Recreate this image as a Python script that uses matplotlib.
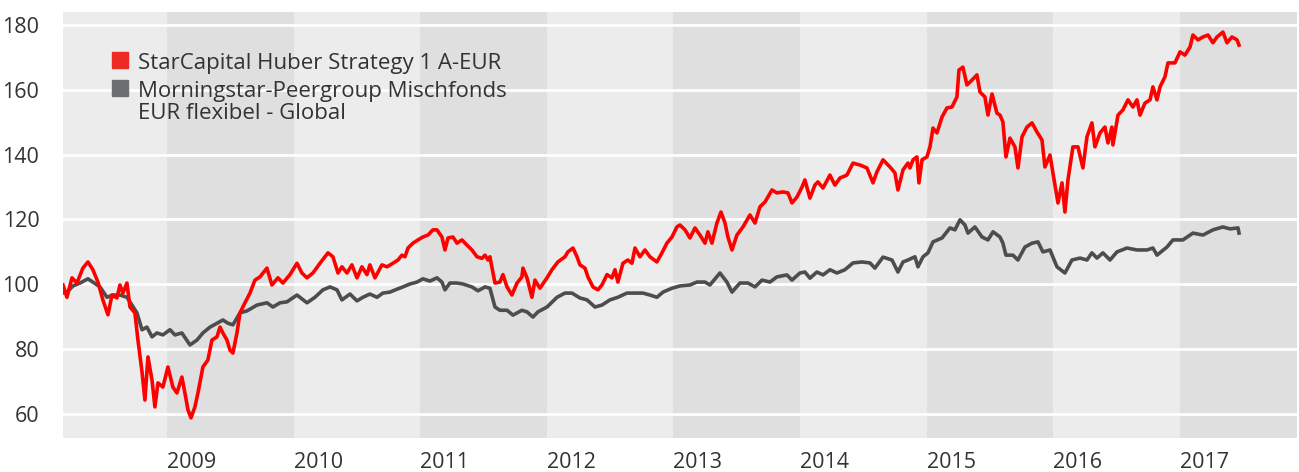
import matplotlib.pyplot as plt

plt.rcParams['font.family'] = ['Open Sans', 'DejaVu Sans']

# Fondsverlauf (indexiert, Start = 100), x als Dezimaljahr
fund_t = [2008.179, 2008.210, 2008.250, 2008.289, 2008.336, 2008.376, 2008.415, 2008.455,
          2008.494, 2008.534, 2008.566, 2008.605, 2008.629, 2008.652, 2008.684, 2008.708,
          2008.747, 2008.771, 2008.803, 2008.826, 2008.850, 2008.882, 2008.905, 2008.929,
          2008.968, 2009.008, 2009.047, 2009.079, 2009.118, 2009.142, 2009.166, 2009.190,
          2009.221, 2009.245, 2009.284, 2009.324, 2009.355, 2009.395, 2009.419, 2009.442,
          2009.474, 2009.498, 2009.521, 2009.553, 2009.577, 2009.616, 2009.656, 2009.695,
          2009.735, 2009.790, 2009.829, 2009.877, 2009.916, 2009.972, 2010.027, 2010.066,
          2010.106, 2010.153, 2010.209, 2010.272, 2010.311, 2010.351, 2010.382, 2010.422,
          2010.461, 2010.501, 2010.540, 2010.580, 2010.603, 2010.643, 2010.698, 2010.738,
          2010.785, 2010.825, 2010.856, 2010.880, 2010.904, 2010.943, 2010.983, 2011.022,
          2011.062, 2011.101, 2011.133, 2011.172, 2011.196, 2011.220, 2011.259, 2011.291,
          2011.330, 2011.370, 2011.409, 2011.449, 2011.488, 2011.512, 2011.536, 2011.551,
          2011.591, 2011.630, 2011.654, 2011.686, 2011.725, 2011.765, 2011.804, 2011.812,
          2011.844, 2011.883, 2011.907, 2011.946, 2012.002, 2012.041, 2012.088, 2012.144,
          2012.167, 2012.207, 2012.239, 2012.262, 2012.302, 2012.325, 2012.365, 2012.404,
          2012.436, 2012.476, 2012.515, 2012.539, 2012.562, 2012.602, 2012.641, 2012.673,
          2012.697, 2012.736, 2012.776, 2012.815, 2012.870, 2012.910, 2012.949, 2012.989,
          2013.028, 2013.052, 2013.092, 2013.131, 2013.171, 2013.210, 2013.250, 2013.273,
          2013.305, 2013.344, 2013.376, 2013.408, 2013.431, 2013.463, 2013.502, 2013.550,
          2013.605, 2013.645, 2013.684, 2013.724, 2013.779, 2013.818, 2013.866, 2013.905,
          2013.937, 2013.976, 2014.016, 2014.039, 2014.079, 2014.118, 2014.142, 2014.182,
          2014.237, 2014.276, 2014.316, 2014.371, 2014.419, 2014.474, 2014.529, 2014.577,
          2014.608, 2014.656, 2014.711, 2014.750, 2014.774, 2014.814, 2014.853, 2014.869,
          2014.893, 2014.924, 2014.940, 2014.964, 2015.003, 2015.027, 2015.051, 2015.082,
          2015.122, 2015.161, 2015.201, 2015.240, 2015.256, 2015.287, 2015.319, 2015.359,
          2015.398, 2015.422, 2015.461, 2015.485, 2015.517, 2015.556, 2015.580, 2015.603,
          2015.627, 2015.659, 2015.698, 2015.722, 2015.754, 2015.793, 2015.833, 2015.872,
          2015.912, 2015.935, 2015.975, 2015.998, 2016.038, 2016.070, 2016.093, 2016.117,
          2016.156, 2016.196, 2016.235, 2016.267, 2016.306, 2016.330, 2016.370, 2016.409,
          2016.433, 2016.464, 2016.472, 2016.512, 2016.551, 2016.591, 2016.630, 2016.662,
          2016.686, 2016.725, 2016.765, 2016.788, 2016.820, 2016.844, 2016.883, 2016.907,
          2016.962, 2017.002, 2017.041, 2017.081, 2017.104, 2017.144, 2017.183, 2017.223,
          2017.262, 2017.294, 2017.341, 2017.373, 2017.412, 2017.452, 2017.468]
fund_v = [99.8, 96, 102, 100.4, 105, 106.9, 104.5, 100.7,
          95.2, 90.6, 96.7, 95.8, 99.8, 97.3, 100.4, 93,
          91.2, 82.8, 73, 64.3, 77.6, 70.5, 62.2, 69.6,
          68.3, 74.5, 68.3, 66.5, 71.4, 66.5, 61.3, 58.8,
          62.2, 66.5, 74.5, 76.7, 82.8, 83.8, 86.8, 85,
          82.8, 79.7, 78.8, 85, 91.2, 94.3, 97.3, 101.3,
          102.3, 105, 99.8, 102, 100.4, 103, 106.5, 103.5,
          102, 103.5, 106.5, 109.7, 108.5, 103.5, 105.4, 103.5,
          106, 102, 105.4, 103, 106, 102, 106, 105.4,
          106.5, 107.5, 109, 108.5, 111.2, 112.7, 113.7, 114.6,
          115.2, 116.8, 116.8, 114.6, 110.6, 114.3, 114.6, 112.7,
          113.7, 112.1, 110.6, 108.5, 108, 109, 107.5, 108.5,
          100.4, 100.7, 103, 99.2, 96.7, 100.4, 102.3, 105,
          102, 96, 101.3, 98.8, 102, 104.5, 106.9, 108.5,
          110, 111.2, 108.5, 106, 105, 102.3, 99.2, 98.3,
          99.8, 103, 102, 104.5, 100.7, 106.5, 107.5, 106.5,
          111.2, 108.5, 110.6, 108.5, 106.9, 109.7, 112.7, 114.6,
          117.7, 118.3, 116.8, 114.3, 117.4, 115.2, 112.7, 116.2,
          112.7, 118.9, 122.3, 118.9, 114.6, 110.6, 115.2, 117.7,
          121.4, 118.9, 123.9, 125.4, 129.1, 128.2, 128.5, 128.2,
          125.1, 126.9, 130, 132.2, 126.6, 130.6, 131.6, 129.7,
          133.7, 130.6, 132.8, 133.7, 137.4, 136.8, 135.9, 131.3,
          134.7, 138.4, 136.2, 134.4, 129.1, 135.3, 137.4, 135.9,
          138.4, 139.3, 131.3, 138.4, 139.3, 142.4, 148.2, 146.7,
          151.6, 154.4, 154.7, 157.8, 166.1, 167, 161.5, 163,
          164.6, 159.3, 157.8, 152.2, 158.7, 152.8, 152.2, 150.1,
          139.3, 145.1, 142.4, 135.9, 145.5, 148.5, 149.8, 147,
          144.5, 136.2, 139.9, 134.4, 125.1, 131.3, 122.3, 132.2,
          142.4, 142.4, 135.9, 145.5, 149.8, 142.4, 146.7, 148.5,
          143.6, 148.5, 143, 152.2, 153.8, 156.9, 154.7, 156.9,
          152.2, 155.9, 156.9, 160.9, 156.9, 160.9, 164, 168.3,
          168.3, 171.7, 170.7, 173.2, 176.9, 175.4, 176.3, 176.9,
          174.5, 176.3, 177.8, 174.5, 176.3, 175.4, 173.8]

# Peergroup
peer_t = [2008.179, 2008.210, 2008.258, 2008.313, 2008.376, 2008.415, 2008.471, 2008.526,
          2008.573, 2008.629, 2008.684, 2008.724, 2008.763, 2008.803, 2008.842, 2008.882,
          2008.921, 2008.968, 2009.024, 2009.063, 2009.118, 2009.182, 2009.237, 2009.284,
          2009.340, 2009.395, 2009.442, 2009.482, 2009.521, 2009.577, 2009.632, 2009.711,
          2009.790, 2009.837, 2009.893, 2009.948, 2010.027, 2010.106, 2010.169, 2010.232,
          2010.288, 2010.343, 2010.382, 2010.446, 2010.501, 2010.548, 2010.603, 2010.659,
          2010.706, 2010.761, 2010.817, 2010.864, 2010.919, 2010.975, 2011.022, 2011.077,
          2011.133, 2011.172, 2011.196, 2011.235, 2011.291, 2011.338, 2011.409, 2011.457,
          2011.512, 2011.551, 2011.591, 2011.630, 2011.686, 2011.733, 2011.804, 2011.844,
          2011.891, 2011.930, 2012.002, 2012.081, 2012.144, 2012.199, 2012.262, 2012.318,
          2012.381, 2012.436, 2012.499, 2012.562, 2012.633, 2012.697, 2012.760, 2012.815,
          2012.870, 2012.918, 2012.989, 2013.052, 2013.131, 2013.186, 2013.250, 2013.289,
          2013.368, 2013.423, 2013.463, 2013.526, 2013.589, 2013.645, 2013.700, 2013.763,
          2013.818, 2013.897, 2013.937, 2014.000, 2014.039, 2014.079, 2014.134, 2014.182,
          2014.237, 2014.292, 2014.355, 2014.419, 2014.490, 2014.553, 2014.592, 2014.656,
          2014.727, 2014.774, 2014.814, 2014.853, 2014.908, 2014.932, 2014.972, 2015.011,
          2015.051, 2015.122, 2015.185, 2015.224, 2015.264, 2015.303, 2015.327, 2015.382,
          2015.438, 2015.485, 2015.525, 2015.580, 2015.603, 2015.627, 2015.682, 2015.722,
          2015.777, 2015.833, 2015.880, 2015.919, 2015.975, 2016.030, 2016.093, 2016.148,
          2016.212, 2016.267, 2016.306, 2016.346, 2016.393, 2016.449, 2016.504, 2016.583,
          2016.662, 2016.741, 2016.788, 2016.820, 2016.899, 2016.946, 2017.025, 2017.104,
          2017.183, 2017.262, 2017.341, 2017.396, 2017.460, 2017.468]
peer_v = [97.3, 97.6, 99.5, 100.4, 101.7, 100.7, 99.2, 96,
          96.7, 96.7, 96, 93.6, 91.2, 86, 86.8, 83.8,
          85, 84.4, 86, 84.4, 85, 81.3, 82.8, 85,
          86.8, 88, 89, 88, 87.5, 91.2, 91.8, 93.6,
          94.3, 93, 94.3, 94.6, 96.7, 94.3, 96, 98.3,
          99.2, 98.3, 95.2, 97, 94.9, 96, 97, 96,
          97.3, 97.6, 98.5, 99.2, 100.1, 100.7, 101.7, 101,
          102, 100.7, 98.3, 100.4, 100.4, 100.1, 99.2, 98,
          99.2, 98.8, 93, 92, 92, 90.5, 92, 91.5,
          89.9, 91.5, 93, 96, 97.3, 97.3, 95.8, 95.2,
          93, 93.6, 95.2, 96, 97.3, 97.3, 97.3, 96.7,
          96, 97.6, 98.8, 99.5, 99.8, 100.7, 100.7, 99.8,
          103.5, 100.7, 97.6, 100.4, 100.4, 99.2, 101.3, 100.7,
          102.3, 102.9, 101.3, 103.5, 103.8, 101.9, 103.8, 102.9,
          104.5, 103.5, 104.5, 106.6, 106.9, 106.6, 105, 108.4,
          107.5, 103.8, 106.9, 107.5, 108.5, 105.4, 108.5, 109.7,
          113.1, 114.3, 117.4, 116.8, 119.9, 118.3, 115.8, 117.7,
          114.6, 113.7, 116.2, 114.6, 112.7, 109, 109, 107.5,
          111.5, 112.7, 113.1, 110, 110.6, 105.4, 103.5, 107.5,
          108.1, 107.5, 109.7, 108.1, 109.7, 107.5, 110, 111.2,
          110.6, 110.6, 111.2, 109, 111.5, 113.7, 113.7, 115.8,
          115.2, 116.8, 117.7, 117.1, 117.4, 115.8]

years = list(range(2009, 2018))
y_ticks = [60, 80, 100, 120, 140, 160, 180]
labels = ['StarCapital Huber Strategy 1 A-EUR',
          'Morningstar-Peergroup Mischfonds\nEUR flexibel - Global']
legend_colors = ['#ee2a24', '#6d6e71']

fig = plt.figure(figsize=(12.99, 4.72), dpi=100)
ax = fig.add_axes([63/1299, 34/472, 1234/1299, 426/472])
ax.set_facecolor('#ececec')

# Jahresbaender
for yr in years:
    if yr % 2 == 1:
        ax.axvspan(yr, yr + 1, color='#dfdfdf', lw=0, zorder=0)

for v in y_ticks:
    ax.axhline(v, color='white', lw=2, zorder=1)

ax.plot(peer_t, peer_v, color='#4d4d4d', lw=2.6, zorder=3)
ax.plot(fund_t, fund_v, color='#ff0000', lw=2.6, zorder=4)

ax.set_xlim(2008.179, 2017.926)
ax.set_ylim(52.6, 184.0)
ax.set_yticks(y_ticks)
ax.set_xticks(years)
ax.set_xticklabels([str(y) for y in years], ha='left')
ax.tick_params(axis='both', length=0, labelsize=15.5, colors='#333333')
ax.tick_params(axis='y', pad=17)
ax.tick_params(axis='x', pad=10)
for s in ax.spines.values():
    s.set_visible(False)

# Legende von Hand, Quadrat auf Hoehe der ersten Textzeile
leg_y = [0.887, 0.8216]
for lab, col, yy in zip(labels, legend_colors, leg_y):
    ax.plot([0.0462], [yy], marker='s', ms=11, color=col, ls='',
            transform=ax.transAxes, zorder=5)
    ax.text(0.0608, yy + 0.016, lab, transform=ax.transAxes, fontsize=16,
            color='#333333', va='top', ha='left', linespacing=1.05, zorder=5)

fig.savefig('out.png', dpi=100)
